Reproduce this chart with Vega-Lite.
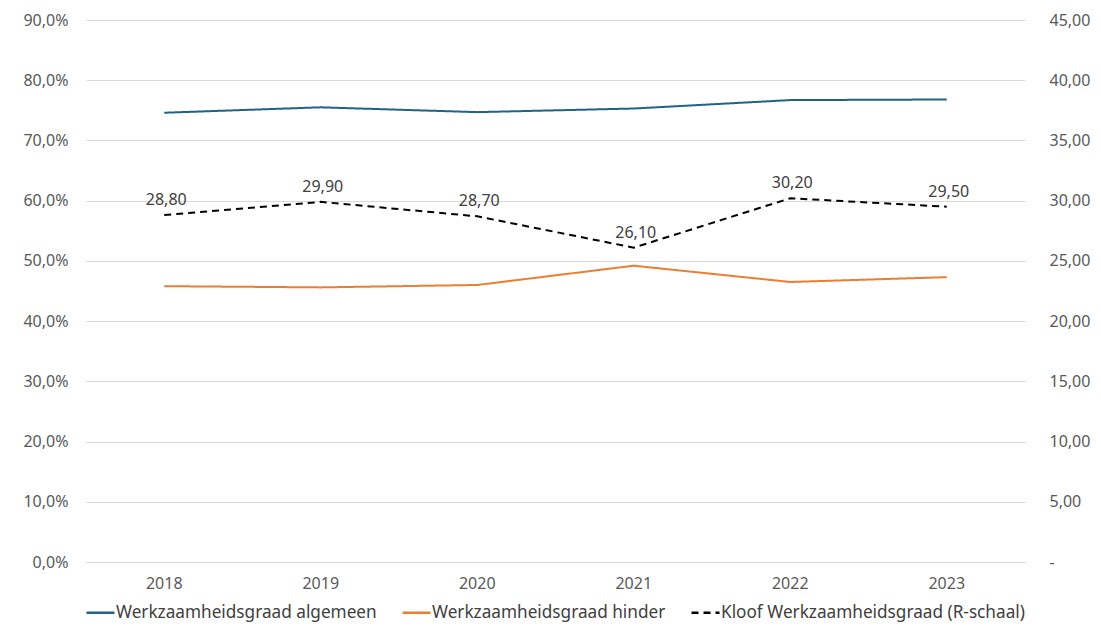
{
  "$schema": "https://vega.github.io/schema/vega-lite/v6.json",
  "width": 939,
  "height": 542,
  "autosize": {"type": "none"},
  "padding": {"left": 86, "top": 20, "right": 76, "bottom": 66},
  "background": "white",
  "config": {
    "font": "Noto Sans",
    "view": {"stroke": null},
    "locale": {"number": {"decimal": ",", "thousands": ".", "grouping": [3], "currency": ["€", ""]}},
    "axis": {"labelFont": "Noto Sans", "labelFontSize": 16, "labelColor": "#595959", "domain": false, "ticks": false, "title": null}
  },
  "data": {
    "values": [
      {"year": "2018", "series": "Werkzaamheidsgraad algemeen", "value": 0.746},
      {"year": "2019", "series": "Werkzaamheidsgraad algemeen", "value": 0.755},
      {"year": "2020", "series": "Werkzaamheidsgraad algemeen", "value": 0.747},
      {"year": "2021", "series": "Werkzaamheidsgraad algemeen", "value": 0.753},
      {"year": "2022", "series": "Werkzaamheidsgraad algemeen", "value": 0.767},
      {"year": "2023", "series": "Werkzaamheidsgraad algemeen", "value": 0.768},
      {"year": "2018", "series": "Werkzaamheidsgraad hinder", "value": 0.458},
      {"year": "2019", "series": "Werkzaamheidsgraad hinder", "value": 0.456},
      {"year": "2020", "series": "Werkzaamheidsgraad hinder", "value": 0.460},
      {"year": "2021", "series": "Werkzaamheidsgraad hinder", "value": 0.492},
      {"year": "2022", "series": "Werkzaamheidsgraad hinder", "value": 0.465},
      {"year": "2023", "series": "Werkzaamheidsgraad hinder", "value": 0.473},
      {"year": "2018", "series": "Kloof Werkzaamheidsgraad (R-schaal)", "value": 28.8},
      {"year": "2019", "series": "Kloof Werkzaamheidsgraad (R-schaal)", "value": 29.9},
      {"year": "2020", "series": "Kloof Werkzaamheidsgraad (R-schaal)", "value": 28.7},
      {"year": "2021", "series": "Kloof Werkzaamheidsgraad (R-schaal)", "value": 26.1},
      {"year": "2022", "series": "Kloof Werkzaamheidsgraad (R-schaal)", "value": 30.2},
      {"year": "2023", "series": "Kloof Werkzaamheidsgraad (R-schaal)", "value": 29.5}
    ]
  },
  "encoding": {
    "x": {
      "field": "year", "type": "ordinal",
      "scale": {"type": "band", "paddingInner": 0, "paddingOuter": 0},
      "axis": {"labelAngle": 0, "labelPadding": 13, "grid": false}
    },
    "color": {
      "field": "series", "type": "nominal",
      "scale": {
        "domain": ["Werkzaamheidsgraad algemeen", "Werkzaamheidsgraad hinder", "Kloof Werkzaamheidsgraad (R-schaal)"],
        "range": ["#1f6386", "#ed7d31", "#000000"]
      },
      "legend": {
        "title": null, "orient": "none", "direction": "horizontal",
        "legendX": -1, "legendY": 577,
        "symbolType": "stroke", "symbolSize": 784, "symbolStrokeWidth": 2.5,
        "labelFontSize": 17.2, "labelColor": "#404040", "labelFont": "Noto Sans",
        "columnPadding": 20, "labelOffset": 0, "labelLimit": 400
      }
    },
    "strokeDash": {
      "field": "series", "type": "nominal",
      "scale": {
        "domain": ["Werkzaamheidsgraad algemeen", "Werkzaamheidsgraad hinder", "Kloof Werkzaamheidsgraad (R-schaal)"],
        "range": [[1, 0], [1, 0], [7, 5]]
      },
      "legend": null
    }
  },
  "layer": [
    {
      "transform": [{"filter": "datum.series !== 'Kloof Werkzaamheidsgraad (R-schaal)'"}],
      "mark": {"type": "line", "strokeWidth": 2, "interpolate": "linear"},
      "encoding": {
        "y": {
          "field": "value", "type": "quantitative",
          "scale": {"domain": [0, 0.9]},
          "axis": {"orient": "left", "format": ".1%", "values": [0, 0.1, 0.2, 0.3, 0.4, 0.5, 0.6, 0.7, 0.8, 0.9], "grid": true, "gridColor": "#d9d9d9", "gridWidth": 1, "labelPadding": 18}
        }
      }
    },
    {
      "transform": [{"filter": "datum.series === 'Kloof Werkzaamheidsgraad (R-schaal)'"}],
      "layer": [
        {
          "mark": {"type": "line", "strokeWidth": 2, "interpolate": "linear"},
          "encoding": {
            "y": {
              "field": "value", "type": "quantitative",
              "scale": {"domain": [0, 45]},
              "axis": {"orient": "right", "format": ".2f", "values": [0, 5, 10, 15, 20, 25, 30, 35, 40, 45], "grid": false, "labelPadding": 24, "labelExpr": "datum.value === 0 ? '-' : datum.label"}
            }
          }
        },
        {
          "mark": {"type": "text", "dy": -15, "dx": 2, "fontSize": 16, "font": "Noto Sans"},
          "encoding": {
            "y": {"field": "value", "type": "quantitative", "scale": {"domain": [0, 45]}},
            "text": {"field": "value", "type": "quantitative", "format": ".2f"},
            "color": {"value": "#404040"},
            "strokeDash": {"value": [1, 0]}
          }
        }
      ]
    }
  ],
  "resolve": {"scale": {"y": "independent"}}
}
